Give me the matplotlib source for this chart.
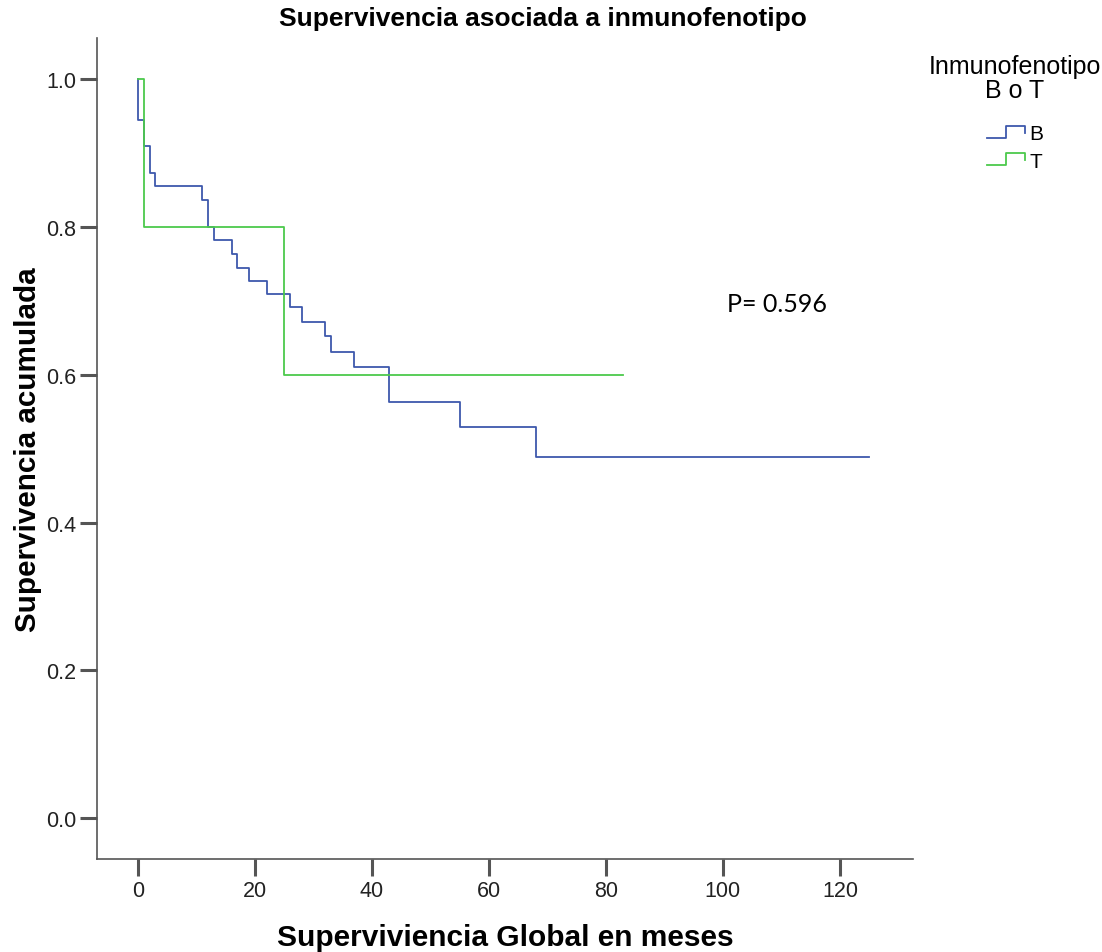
import numpy as np
import matplotlib
matplotlib.use("Agg")
import matplotlib.pyplot as plt
from matplotlib.legend_handler import HandlerBase
from matplotlib.lines import Line2D

plt.rcParams['font.family'] = ['Liberation Sans', 'DejaVu Sans']

# Kaplan-Meier estimates per immunophenotype (month of each drop, survival after it)
tiempos_B = [0, 1, 2, 3, 11, 12, 13, 16, 17, 19, 22, 26, 28, 32, 33, 37, 43, 55, 68]
superv_B = [0.945, 0.909, 0.873, 0.855, 0.836, 0.800, 0.782, 0.764, 0.745, 0.727,
            0.709, 0.691, 0.671, 0.652, 0.631, 0.611, 0.563, 0.530, 0.489]
fin_B = 125

tiempos_T = [1, 25]
superv_T = [0.80, 0.60]
fin_T = 83

grupos = ["B", "T"]
colores = ["#3E58AC", "#4CC94C"]
p_valor = "P= 0.596"


class StepHandler(HandlerBase):
    # small step-shaped legend key like the one SPSS draws
    def create_artists(self, legend, orig_handle, xd, yd, w, h, fontsize, trans):
        xs = np.array([0, 0.5, 0.5, 1.0, 1.0]) * w - xd
        ys = np.array([0.15, 0.15, 0.85, 0.85, 0.45]) * h - yd
        ln = Line2D(xs, ys, color=orig_handle.get_color(), lw=orig_handle.get_linewidth())
        ln.set_transform(trans)
        return [ln]


fig = plt.figure(figsize=(11.02, 9.53), dpi=100)
ax = fig.add_axes([97 / 1102, 93 / 953, 816 / 1102, 821 / 953])

curvas = [(tiempos_B, superv_B, fin_B), (tiempos_T, superv_T, fin_T)]
handles = []
for (t, s, fin), col, g in zip(curvas, colores, grupos):
    xs = [0] + list(t) + [fin]
    ys = [1.0] + list(s) + [s[-1]]
    h, = ax.step(xs, ys, where='post', color=col, lw=1.3, label=g)
    handles.append(h)

ax.set_xlim(-7, 132.5)
ax.set_ylim(-0.055, 1.0555)
ax.set_xticks(np.arange(0, 121, 20))
ax.set_yticks(np.arange(0, 1.01, 0.2))
ax.set_yticklabels([f"{v:.1f}" for v in np.arange(0, 1.01, 0.2)])

for side in ['top', 'right']:
    ax.spines[side].set_visible(False)
for side in ['left', 'bottom']:
    ax.spines[side].set_color('#555555')
    ax.spines[side].set_linewidth(1.2)
ax.tick_params(axis='both', direction='out', length=12, width=2.2, color='#555555',
               labelsize=15.5, labelcolor='#222222', pad=3)

ax.set_xlabel("Superviviencia Global en meses", fontsize=21.5, fontweight='bold', labelpad=16)
ax.set_ylabel("Supervivencia acumulada", fontsize=21.3, fontweight='bold', labelpad=3)
fig.text(543 / 1102, 1 - 19 / 953, "Supervivencia asociada a inmunofenotipo",
         ha='center', va='center', fontsize=19, fontweight='bold')

ax.text(109.2, 0.696, p_valor, fontsize=18, family=['Lato', 'DejaVu Sans'],
        ha='center', va='center')

# legend: two-line title drawn on its own, step keys below it
fig.text(1015 / 1102, 1 - 79 / 953, "Inmunofenotipo\nB o T", ha='center', va='center',
         fontsize=18, linespacing=1.0)
leg = fig.legend(handles=handles, labels=grupos,
                 loc='upper left', bbox_to_anchor=(972 / 1102, 1 - 110 / 953),
                 frameon=False, fontsize=15, borderpad=0.2,
                 handler_map={Line2D: StepHandler()},
                 handlelength=1.85, handleheight=0.9, handletextpad=0.2,
                 labelspacing=0.35)

fig.savefig("out.png", dpi=100)
